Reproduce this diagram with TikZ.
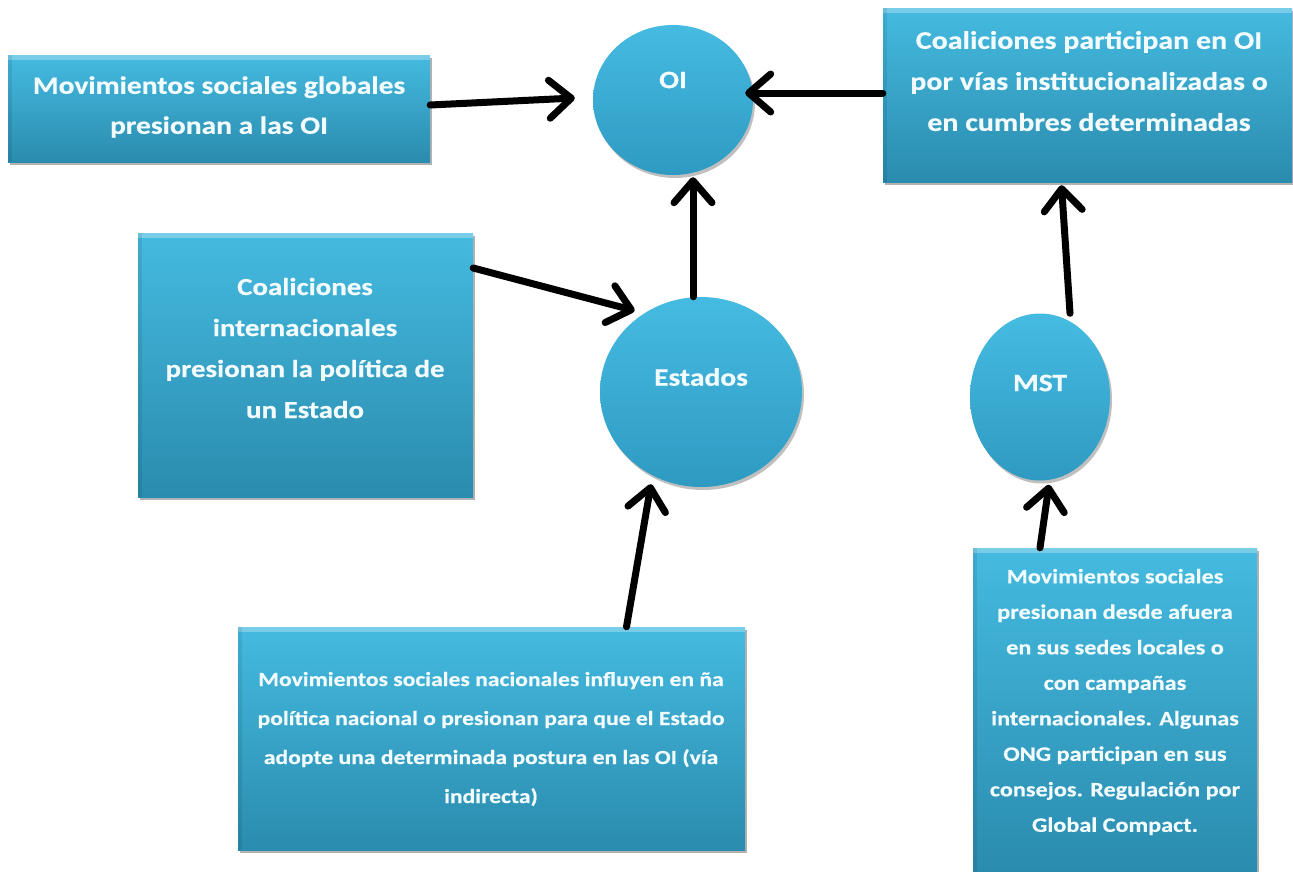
\documentclass[tikz,border=0pt]{standalone}
\usepackage{fontspec}
\setmainfont{Carlito}[BoldFeatures={FakeStretch=1.18,FakeBold=0.5}]
\usetikzlibrary{arrows.meta,shapes.geometric,shadows}
\definecolor{boxtop}{HTML}{45BAE0}
\definecolor{boxmid}{HTML}{32A4CA}
\definecolor{boxbot}{HTML}{2A8CAE}
\definecolor{circtop}{HTML}{46BBE2}
\definecolor{circbot}{HTML}{2E9AC2}
\definecolor{txt}{HTML}{F2FBFE}
\tikzset{
  panel/.style={rectangle, draw=none, top color=boxtop, middle color=boxmid, bottom color=boxbot,
    drop shadow={shadow xshift=2pt, shadow yshift=-3pt, opacity=0.3, fill=black},
    path picture={\fill[white,opacity=0.28] (path picture bounding box.north west) rectangle ([yshift=-5pt]path picture bounding box.north east);
                  \fill[black,opacity=0.08] (path picture bounding box.north west) rectangle ([xshift=4pt]path picture bounding box.south west);}},
  orb/.style={ellipse, draw=none, inner sep=0pt, top color=circtop, bottom color=circbot,
    drop shadow={shadow xshift=2pt, shadow yshift=-3pt, opacity=0.25, fill=black}},
  lbl/.style={text=txt, font=\bfseries, align=center, inner sep=0pt},
  conn/.style={line width=7pt, line cap=round, -{Straight Barb[length=22pt,width=38pt,round]}},
}
\begin{document}
\begin{tikzpicture}[x=1pt,y=-1pt]
\useasboundingbox (0,0) rectangle (1293,871);
% boxes
\node[panel, minimum width=422pt, minimum height=107pt] (b1) at (219,108.5) {};
\node[panel, minimum width=409pt, minimum height=174pt] (b2) at (1087.5,95) {};
\node[panel, minimum width=335pt, minimum height=264pt] (b3) at (305.5,365) {};
\node[panel, minimum width=507pt, minimum height=223pt] (b4) at (491.5,738.5) {};
\node[panel, minimum width=284pt, minimum height=325pt] (b5) at (1115,710.5) {};
% circles
\node[orb, minimum width=160pt, minimum height=150pt] (oi) at (673,100) {};
\node[orb, minimum width=202pt, minimum height=190pt] (est) at (701,392) {};
\node[orb, minimum width=140pt, minimum height=167pt] (mst) at (1040,397) {};
% texts
\node[lbl, font=\bfseries\fontsize{25}{40}\selectfont] (t1) at (219,107) {Movimientos sociales globales\\presionan a las OI};
\node[lbl, font=\bfseries\fontsize{25.4}{41}\selectfont] (t2) at (1089,81) {Coaliciones participan en OI\\por vías institucionalizadas o\\en cumbres determinadas};
\node[lbl, font=\bfseries\fontsize{24.5}{41}\selectfont] (t3) at (305,348) {Coaliciones\\internacionales\\presionan la política de\\un Estado};
\node[lbl, font=\bfseries\fontsize{20}{39}\selectfont] (t4) at (491,739) {Movimientos sociales nacionales influyen en ña\\política nacional o presionan para que el Estado\\adopte una determinada postura en las OI (vía\\indirecta)};
\node[lbl, font=\bfseries\fontsize{20.5}{35.5}\selectfont] (t5) at (1115,702) {Movimientos sociales\\presionan desde afuera\\en sus sedes locales o\\con campañas\\internacionales. Algunas\\ONG participan en sus\\consejos. Regulación por\\Global Compact.};
\node[lbl, font=\bfseries\fontsize{25}{30}\selectfont] (toi) at (673,80) {OI};
\node[lbl, font=\bfseries\fontsize{25}{30}\selectfont] (test) at (701,377) {Estados};
\node[lbl, font=\bfseries\fontsize{25}{30}\selectfont] (tmst) at (1040,383) {MST};
% connectors
\draw[conn] ([yshift=3.5pt]b1.east) -- ([xshift=-18pt,yshift=2pt]oi.west);
\draw[conn] ([yshift=2pt]b2.west) -- ([xshift=-8pt,yshift=7pt]oi.east);
\draw[conn] ([xshift=-8pt]est.north) -- ([xshift=20pt,yshift=-2pt]oi.south);
\draw[conn] ([yshift=97pt]b3.east) -- ([xshift=3pt,yshift=12pt]est.135);
\draw[conn] ([xshift=135pt]b4.north) -- ([xshift=-50pt,yshift=3pt]est.south);
\draw[conn] ([xshift=30pt]mst.north) -- ([xshift=-26pt,yshift=-3pt]b2.south);
\draw[conn] ([xshift=-75pt]b5.north) -- ([xshift=9pt,yshift=-4pt]mst.south);
\end{tikzpicture}
\end{document}
